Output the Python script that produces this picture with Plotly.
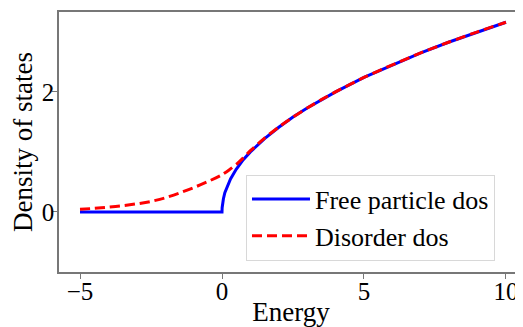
import plotly.graph_objects as go

# Free particle density of states
free_energy = [-5, -4, -3, -2, -1, 0, 0.005, 0.02, 0.05, 0.1, 0.2, 0.3, 0.5, 0.75,
               1, 1.5, 2, 2.5, 3, 3.5, 4, 5, 6, 7, 8, 9, 10]
free_dos = [0, 0, 0, 0, 0, 0, 0.07, 0.14, 0.22, 0.32, 0.45, 0.55, 0.71, 0.87,
            1.0, 1.22, 1.41, 1.58, 1.73, 1.87, 2.0, 2.24, 2.45, 2.65, 2.83, 3.0, 3.16]

# Disorder-broadened density of states
dis_energy = [-5, -4.5, -4, -3.5, -3, -2.5, -2, -1.5, -1, -0.5, 0, 0.25, 0.5, 0.75,
              1, 1.5, 2, 2.5, 3, 3.5, 4, 5, 6, 7, 8, 9, 10]
dis_dos = [0.045, 0.06, 0.08, 0.105, 0.135, 0.175, 0.235, 0.315, 0.405, 0.505, 0.62, 0.7, 0.79, 0.9,
           1.02, 1.23, 1.415, 1.58, 1.73, 1.87, 2.0, 2.24, 2.45, 2.65, 2.83, 3.0, 3.16]

x_ticks = [-5, 0, 5, 10]
y_ticks = [0, 2]

font_family = "Liberation Serif"

fig = go.Figure()
fig.add_trace(go.Scatter(x=free_energy, y=free_dos, mode="lines", name="Free particle dos",
                         line=dict(color="#0000ff", width=3)))
fig.add_trace(go.Scatter(x=dis_energy, y=dis_dos, mode="lines", name="Disorder dos",
                         line=dict(color="#ff0000", width=3, dash="10px,5px", shape="spline",
                                   smoothing=0.6)))

axis_common = dict(showgrid=False, zeroline=False, showline=True, linecolor="#777777",
                   linewidth=1.5, ticks="outside", ticklen=5, tickcolor="#777777", tickwidth=1,
                   automargin=False,
                   tickfont=dict(family=font_family, size=25, color="black"))

# The page body adds an 8px offset, so the figure is sized 8px smaller.
fig.update_layout(
    width=515, height=319,
    margin=dict(l=51, r=0, t=4, b=55, autoexpand=False),
    paper_bgcolor="white", plot_bgcolor="white",
    font=dict(family=font_family, color="black"),
    xaxis=dict(range=[-5.74, 10.6], tickvals=x_ticks, mirror=True, ticklabelstandoff=-9,
               title=dict(text="Energy", font=dict(family=font_family, size=27), standoff=2),
               **axis_common),
    yaxis=dict(range=[-1.0, 3.33], tickvals=y_ticks, ticklabelstandoff=-7,
               title=dict(text="Density of states", font=dict(family=font_family, size=27), standoff=2),
               **axis_common),
    legend=dict(x=0.403, y=0.375, xanchor="left", yanchor="top",
                bgcolor="rgba(255,255,255,0.8)", bordercolor="#d8d8d8", borderwidth=1,
                font=dict(family=font_family, size=26, color="black"),
                itemwidth=58),
    showlegend=True,
)

fig.write_html("out.html")
